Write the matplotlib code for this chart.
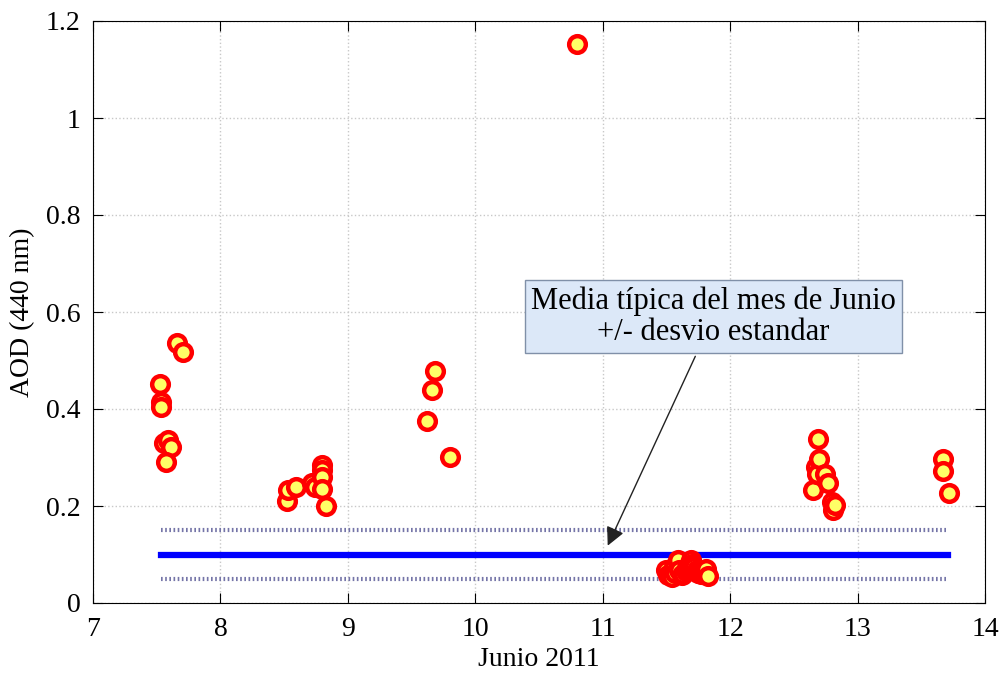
import matplotlib
matplotlib.use("Agg")
import matplotlib.pyplot as plt

# AOD 440 nm, Junio 2011
dias = [7.526, 7.53, 7.53, 7.56, 7.59, 7.61, 7.57, 7.66, 7.71,
        8.52, 8.53, 8.59, 8.72, 8.74, 8.795, 8.80, 8.80, 8.80, 8.83,
        9.62, 9.66, 9.68, 9.80,
        10.80,
        11.50, 11.51, 11.53, 11.545, 11.56, 11.57, 11.59, 11.60, 11.62, 11.63,
        11.65, 11.66, 11.68, 11.69, 11.70, 11.72, 11.74, 11.75, 11.77, 11.79,
        11.81, 11.83,
        12.65, 12.67, 12.68, 12.69, 12.70, 12.745, 12.77, 12.80, 12.81, 12.82,
        13.67, 13.67, 13.72]
aod = [0.451, 0.414, 0.404, 0.330, 0.336, 0.322, 0.290, 0.537, 0.517,
       0.210, 0.232, 0.240, 0.247, 0.240, 0.285, 0.274, 0.260, 0.235, 0.199,
       0.375, 0.439, 0.479, 0.302,
       1.153,
       0.068, 0.058, 0.060, 0.054, 0.075, 0.062, 0.088, 0.068, 0.058, 0.060,
       0.066, 0.072, 0.078, 0.089, 0.080, 0.074, 0.068, 0.062, 0.060, 0.066,
       0.070, 0.056,
       0.232, 0.281, 0.267, 0.338, 0.296, 0.267, 0.248, 0.209, 0.192, 0.202,
       0.296, 0.273, 0.226]

media_x = [7.53, 13.71]
media = 0.1
desvio = 0.05

plt.rcParams['font.family'] = ['Liberation Serif', 'DejaVu Serif']

fig = plt.figure(figsize=(10.06, 6.77), dpi=100)
ax = fig.add_axes([93 / 1006, 1 - 603 / 677, (985 - 93) / 1006, (603 - 21) / 677])

ax.plot(media_x, [media + desvio] * 2, color='#7575a8', lw=3, ls=(0, (0.4, 0.6)))
ax.plot(media_x, [media - desvio] * 2, color='#7575a8', lw=3, ls=(0, (0.4, 0.6)))
ax.plot(media_x, [media] * 2, color='#0000ff', lw=4.5)
ax.plot(dias, aod, 'o', ms=12, mfc='#ffff66', mec='#ff0000', mew=3.2, zorder=5)

ax.set_xlim(7, 14)
ax.set_ylim(0, 1.2)
ax.set_xticks(range(7, 15))
ax.set_yticks([0, 0.2, 0.4, 0.6, 0.8, 1.0, 1.2])
ax.set_yticklabels(['0', '0.2', '0.4', '0.6', '0.8', '1', '1.2'])
ax.tick_params(direction='in', labelsize=20, length=7, top=True, right=True)
ax.tick_params(axis='x', pad=10)
ax.tick_params(axis='y', pad=9)
ax.grid(True, color='#c8c8c8', ls=':', lw=1)
ax.set_xlabel('Junio 2011', fontsize=20, labelpad=4)
ax.set_ylabel('AOD (440 nm)', fontsize=20, labelpad=8)

ax.annotate('Media típica del mes de Junio\n+/- desvio estandar',
            xy=(11.03, 0.113), xytext=(11.87, 0.59),
            ha='center', va='center', fontsize=22, zorder=6, linespacing=1.1,
            bbox=dict(boxstyle='square,pad=0.2', fc='#dce8f8', ec='#8090a8', lw=1),
            arrowprops=dict(arrowstyle='-|>', color='#222222', lw=1, mutation_scale=28))

fig.savefig('out.png', dpi=100)
